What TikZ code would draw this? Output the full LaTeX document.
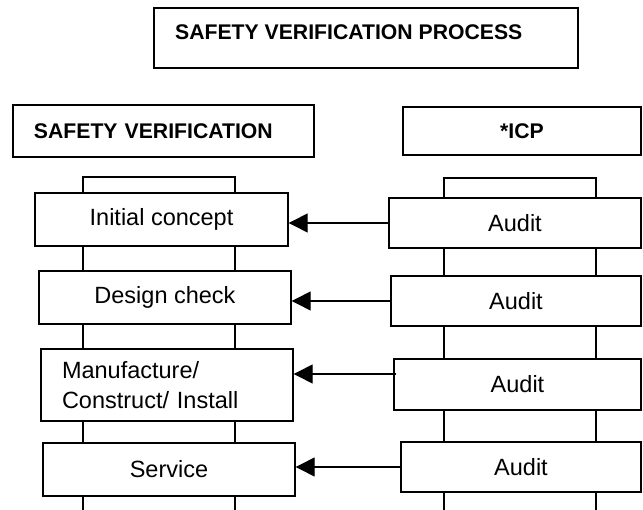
\documentclass[tikz,border=0pt]{standalone}
\usepackage{fontspec}
\setmainfont{Liberation Sans}
\usetikzlibrary{arrows.meta}

\tikzset{
  boxline/.style={draw=black, line width=1.4pt},
  stagebox/.style={boxline, fill=white, inner sep=0pt, align=center,
    font=\fontsize{23.5}{30}\selectfont},
  headbox/.style={boxline, fill=white, inner sep=0pt,
    font=\bfseries\fontsize{21.2}{26}\selectfont},
  lane/.style={draw=black, line width=1.3pt},
  feed/.style={draw=black, line width=1.3pt, -{Triangle[length=19pt,width=19pt]}},
}

\begin{document}
\begin{tikzpicture}[x=1pt, y=-1pt]
  \useasboundingbox (0,0) rectangle (643,510);

  % lane rails behind the boxes
  \coordinate (lt1) at (83,177);  \coordinate (lt2) at (235,177);
  \coordinate (lb1) at (83,510);  \coordinate (lb2) at (235,510);
  \coordinate (rt1) at (444,178); \coordinate (rt2) at (596,178);
  \coordinate (rb1) at (444,510); \coordinate (rb2) at (596,510);
  \draw[lane] (lb1) -- (lt1) -- (lt2) -- (lb2);
  \draw[lane] (rb1) -- (rt1) -- (rt2) -- (rb2);

  % title
  \node[headbox, minimum width=424pt, minimum height=60pt] (title) at (366,38) {};
  \node[font=\bfseries\fontsize{21.2}{26}\selectfont, inner sep=0pt, anchor=west]
    (titletext) at (175,32) {SAFETY VERIFICATION PROCESS};

  % lane headings
  \node[headbox, minimum width=301pt, minimum height=52pt,
        text width=259pt, inner xsep=21pt, align=left] (svhead) at (163.5,131) {SAFETY VERIFICATION};
  \node[headbox, minimum width=238pt, minimum height=48pt] (icphead) at (522,131) {*ICP};

  % verification stages
  \node[stagebox, minimum width=253pt, minimum height=53pt] (ic) at (161.5,219.5) {Initial concept};
  \node[stagebox, minimum width=252pt, minimum height=53pt] (dc) at (165,297.5) {Design check};
  \node[stagebox, minimum width=252pt, minimum height=72pt,
        text width=210pt, inner xsep=21pt, align=left] (mf) at (167,385)
        {Manufacture/\\Construct/ Install};
  \node[stagebox, minimum width=252pt, minimum height=53pt] (sv) at (169,469.5) {Service};

  % audits
  \node[stagebox, minimum width=252pt, minimum height=50pt] (a1) at (515,223) {Audit};
  \node[stagebox, minimum width=250pt, minimum height=50pt] (a2) at (516,301) {Audit};
  \node[stagebox, minimum width=247pt, minimum height=51pt] (a3) at (517.5,384.5) {Audit};
  \node[stagebox, minimum width=240pt, minimum height=50pt] (a4) at (521,467) {Audit};

  % audit feedback
  \draw[feed] (a1.west) -- (ic.east |- a1.west);
  \draw[feed] (a2.west) -- (dc.east |- a2.west);
  \coordinate (a3out) at ([xshift=3pt, yshift=10.5pt]a3.west);
  \draw[feed] (a3out) -- (mf.east |- a3out);
  \draw[feed] (a4.west) -- (sv.east |- a4.west);
\end{tikzpicture}
\end{document}
